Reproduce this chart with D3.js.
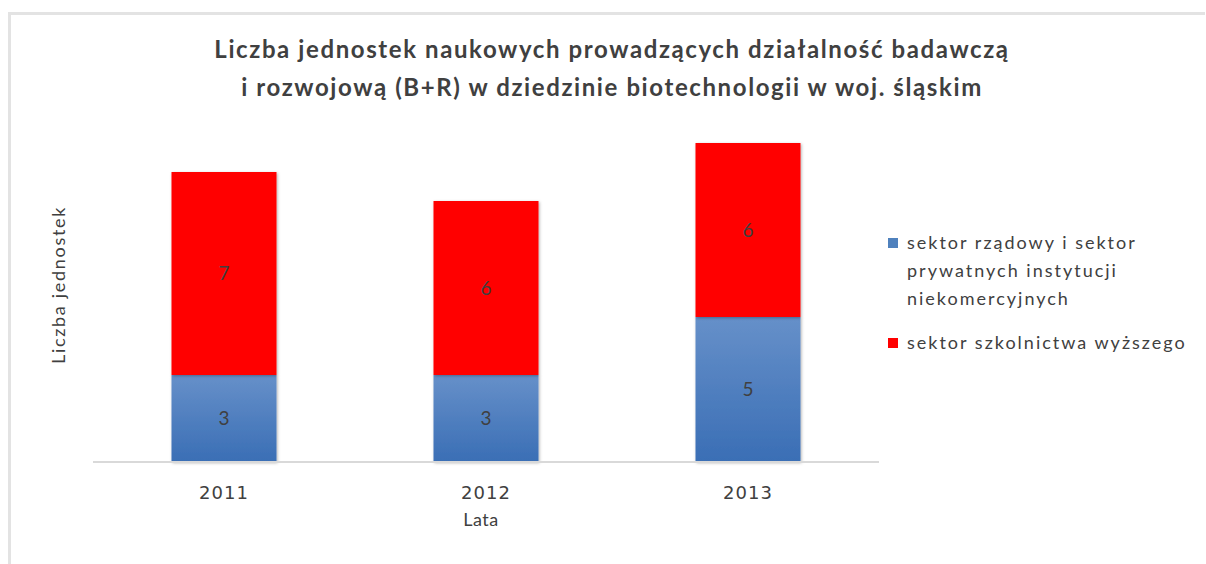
<!DOCTYPE html>
<html><head><meta charset="utf-8">
<script src="https://cdn.jsdelivr.net/npm/d3@7"></script>
<style>body{margin:0;background:#fff;}svg{display:block;}</style>
</head><body>
<script>
const years = ["2011", "2012", "2013"];
const seriesNames = ["sektor rządowy i sektor prywatnych instytucji niekomercyjnych", "sektor szkolnictwa wyższego"];
const govValues = [3, 3, 5];
const higherEdValues = [7, 6, 6];
const titleLines = ["Liczba jednostek naukowych prowadzących działalność badawczą", "i rozwojową (B+R) w dziedzinie biotechnologii w woj. śląskim"];
const legendLines = [["sektor rządowy i sektor", "prywatnych instytucji", "niekomercyjnych"], ["sektor szkolnictwa wyższego"]];
const xTitle = "Lata";
const yTitle = "Liczba jednostek";

const W = 1206, H = 564;
const font = "Lato, 'Open Sans', sans-serif";
const textCol = "#404040";
const svg = d3.select("body").append("svg").attr("width", W).attr("height", H);

const defs = svg.append("defs");
const g1 = defs.append("linearGradient").attr("id", "blueGrad").attr("x1", 0).attr("y1", 0).attr("x2", 0).attr("y2", 1);
g1.append("stop").attr("offset", "0%").attr("stop-color", "#6690c9");
g1.append("stop").attr("offset", "100%").attr("stop-color", "#3a6eb5");
const f = defs.append("filter").attr("id", "shadow").attr("x", "-10%").attr("y", "-10%").attr("width", "120%").attr("height", "120%");
f.append("feDropShadow").attr("dx", 1).attr("dy", 1).attr("stdDeviation", 1.5).attr("flood-color", "#000").attr("flood-opacity", 0.3);

// frame
svg.append("path").attr("d", `M9.5,${H} L9.5,13.5 L${W - 1},13.5`).attr("fill", "none").attr("stroke", "#e3e3e3").attr("stroke-width", 3);

const x = d3.scaleBand().domain(years).range([93, 879]).paddingInner(0.6).paddingOuter(0.3);
const y = d3.scaleLinear().domain([0, 12]).range([462, 114]);

const stackData = years.map((yr, i) => ({year: yr, gov: govValues[i], edu: higherEdValues[i]}));
const stacked = d3.stack().keys(["gov", "edu"])(stackData);
const fills = ["url(#blueGrad)", "#ff0000"];
const legendFills = ["#4f81bd", "#ff0000"];

const bw = 105;
stacked.forEach((layer, li) => {
  svg.append("g").selectAll("rect").data(layer).join("rect")
    .attr("x", d => x(d.data.year) + x.bandwidth() / 2 - bw / 2)
    .attr("width", bw)
    .attr("y", d => y(d[1]))
    .attr("height", d => y(d[0]) - y(d[1]))
    .attr("fill", fills[li])
    .attr("filter", "url(#shadow)");
});
stacked.forEach((layer) => {
  svg.append("g").selectAll("text").data(layer).join("text")
    .attr("x", d => x(d.data.year) + x.bandwidth() / 2)
    .attr("y", d => (y(d[0]) + y(d[1])) / 2)
    .attr("dy", "0.35em")
    .attr("text-anchor", "middle")
    .attr("font-family", font).attr("font-size", 19).attr("fill", textCol)
    .text(d => d[1] - d[0]);
});

// x axis
const xAxis = svg.append("g").attr("transform", "translate(0,462)")
  .call(d3.axisBottom(x).tickSize(0).tickPadding(24));
xAxis.select(".domain").attr("stroke", "#d9d9d9").attr("stroke-width", 2).attr("d", "M93,0H879");
xAxis.selectAll("text").attr("font-family", "'DejaVu Sans', sans-serif").attr("font-size", 18).attr("letter-spacing", 1).attr("fill", textCol);

svg.append("text").attr("x", 481).attr("y", 526).attr("text-anchor", "middle")
  .attr("font-family", font).attr("font-size", 18).attr("letter-spacing", 0.5).attr("fill", textCol).text(xTitle);
svg.append("text").attr("transform", "translate(65,285) rotate(-90)").attr("text-anchor", "middle")
  .attr("font-family", font).attr("font-size", 18).attr("letter-spacing", 1.7).attr("fill", textCol).text(yTitle);

// title
svg.append("g").selectAll("text").data(titleLines).join("text")
  .attr("x", 612).attr("y", (d, i) => 58 + i * 38)
  .attr("text-anchor", "middle").attr("font-family", font).attr("font-weight", "bold")
  .attr("font-size", 24).attr("letter-spacing", 1.6).attr("fill", textCol).text(d => d);

// legend
const lg = svg.append("g");
let ly = 243;
legendLines.forEach((lines, i) => {
  lg.append("rect").attr("x", 888).attr("y", ly - 5).attr("width", 10).attr("height", 10).attr("fill", legendFills[i]);
  lines.forEach((t, j) => {
    lg.append("text").attr("x", 907).attr("y", ly + j * 28).attr("dy", "0.35em")
      .attr("font-family", font).attr("font-size", 18).attr("letter-spacing", 2).attr("fill", textCol).text(t);
  });
  ly += lines.length * 28 + 16;
});
</script>
</body></html>
